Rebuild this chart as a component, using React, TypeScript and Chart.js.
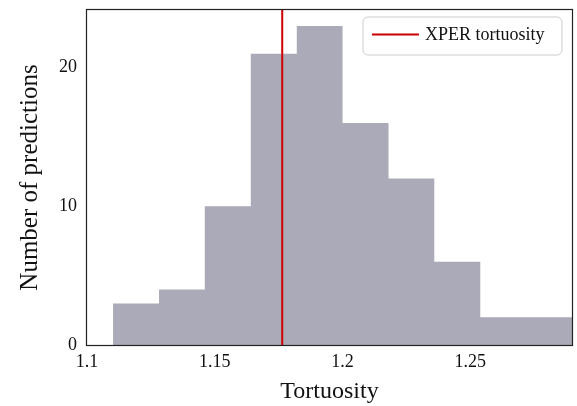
import React, { useEffect, useRef } from "react";
import { Chart, registerables } from "chart.js";

Chart.register(...registerables);

// Histogram bin edges (Tortuosity) and counts per bin
const binEdges = [1.1102, 1.1282, 1.1461, 1.1641, 1.1821, 1.2, 1.218, 1.2359, 1.2539, 1.2718, 1.2898];
const binCounts = [3, 4, 10, 21, 23, 16, 12, 6, 2, 2];
const xperTortuosity = 1.1764;
const xperLabel = "XPER tortuosity";
const xTicks = [1.1, 1.15, 1.2, 1.25];
const yTicks = [0, 10, 20];
const xMin = 1.1;
const xMax = 1.2898;
const yMax = 24.15;

const FONT = "'Liberation Serif', 'DejaVu Serif', serif";
const BAR_COLOR = "#aaaab8";
const RED = "#cc0000";

export default function App() {
  const ref = useRef<HTMLCanvasElement | null>(null);

  useEffect(() => {
    const canvas = ref.current;
    if (!canvas) return;

    const histData = binEdges.map((e, i) => ({
      x: e,
      y: binCounts[Math.min(i, binCounts.length - 1)],
    }));

    const framePlugin = {
      id: "frameAndLegend",
      afterDatasetsDraw(chart: any) {
        const { ctx, chartArea } = chart;
        ctx.save();
        ctx.strokeStyle = "#222222";
        ctx.lineWidth = 1.2;
        ctx.strokeRect(
          Math.round(chartArea.left) - 0.5,
          Math.round(chartArea.top) - 0.5,
          Math.round(chartArea.right - chartArea.left) + 1,
          Math.round(chartArea.bottom - chartArea.top) + 1
        );
        ctx.restore();
      },
      afterDraw(chart: any) {
        const { ctx, chartArea } = chart;
        const ds = chart.data.datasets[1];
        ctx.save();
        const w = 199;
        const h = 38;
        const x = chartArea.right - 10 - w;
        const y = chartArea.top + 7;
        const r = 5;
        ctx.beginPath();
        ctx.moveTo(x + r, y);
        ctx.lineTo(x + w - r, y);
        ctx.arcTo(x + w, y, x + w, y + r, r);
        ctx.lineTo(x + w, y + h - r);
        ctx.arcTo(x + w, y + h, x + w - r, y + h, r);
        ctx.lineTo(x + r, y + h);
        ctx.arcTo(x, y + h, x, y + h - r, r);
        ctx.lineTo(x, y + r);
        ctx.arcTo(x, y, x + r, y, r);
        ctx.closePath();
        ctx.fillStyle = "rgba(255,255,255,0.85)";
        ctx.fill();
        ctx.strokeStyle = "#cccccc";
        ctx.lineWidth = 1;
        ctx.stroke();

        ctx.beginPath();
        ctx.strokeStyle = ds.borderColor;
        ctx.lineWidth = 2;
        ctx.moveTo(x + 9, y + 17.5);
        ctx.lineTo(x + 56, y + 17.5);
        ctx.stroke();

        ctx.fillStyle = "#111111";
        ctx.font = `18px ${FONT}`;
        ctx.textBaseline = "alphabetic";
        ctx.textAlign = "left";
        ctx.fillText(ds.label, x + 62, y + 23);
        ctx.restore();
      },
    };

    const chart = new Chart(canvas, {
      type: "line",
      data: {
        datasets: [
          {
            label: "hist",
            data: histData,
            stepped: "before",
            fill: "origin",
            backgroundColor: BAR_COLOR,
            borderWidth: 0,
            borderColor: BAR_COLOR,
            pointRadius: 0,
            order: 2,
          },
          {
            label: xperLabel,
            data: [
              { x: xperTortuosity, y: 0 },
              { x: xperTortuosity, y: yMax },
            ],
            borderColor: RED,
            borderWidth: 2,
            pointRadius: 0,
            fill: false,
            order: 1,
          },
        ],
      },
      options: {
        responsive: false,
        animation: false,
        devicePixelRatio: 1,
        layout: { padding: { top: 10, right: 5, left: 0, bottom: 0 } },
        plugins: {
          legend: { display: false },
          tooltip: { enabled: false },
        },
        scales: {
          x: {
            type: "linear",
            min: xMin,
            max: xMax,
            grid: { display: false, drawTicks: false },
            border: { display: false },
            afterBuildTicks: (scale: any) => {
              scale.ticks = xTicks.map((v) => ({ value: v }));
            },
            afterFit: (scale: any) => {
              scale.height = 61;
              scale.paddingLeft = 0;
              scale.paddingRight = 0;
            },
            ticks: {
              padding: 6,
              color: "#111111",
              font: { family: FONT, size: 18 },
              maxRotation: 0,
              callback: (v: any) => String(Number(v)),
            },
            title: {
              display: true,
              text: "Tortuosity",
              color: "#111111",
              font: { family: FONT, size: 24 },
              padding: { top: 0, bottom: 0 },
            },
          },
          y: {
            type: "linear",
            min: 0,
            max: yMax,
            grid: { display: false, drawTicks: false },
            border: { display: false },
            afterBuildTicks: (scale: any) => {
              scale.ticks = yTicks.map((v) => ({ value: v }));
            },
            afterFit: (scale: any) => {
              scale.width = 87;
              scale.paddingTop = 0;
              scale.paddingBottom = 0;
            },
            ticks: {
              padding: 10,
              color: "#111111",
              font: { family: FONT, size: 18 },
              callback: (v: any) => String(v),
            },
            title: {
              display: true,
              text: "Number of predictions",
              color: "#111111",
              font: { family: FONT, size: 25 },
              padding: { top: 15, bottom: 0 },
            },
          },
        },
      },
      plugins: [framePlugin],
    });

    return () => chart.destroy();
  }, []);

  return (
    <div style={{ position: "absolute", left: 0, top: 0, width: 577, height: 406, background: "#fff" }}>
      <canvas ref={ref} width={577} height={406} style={{ display: "block", width: 577, height: 406 }} />
    </div>
  );
}
